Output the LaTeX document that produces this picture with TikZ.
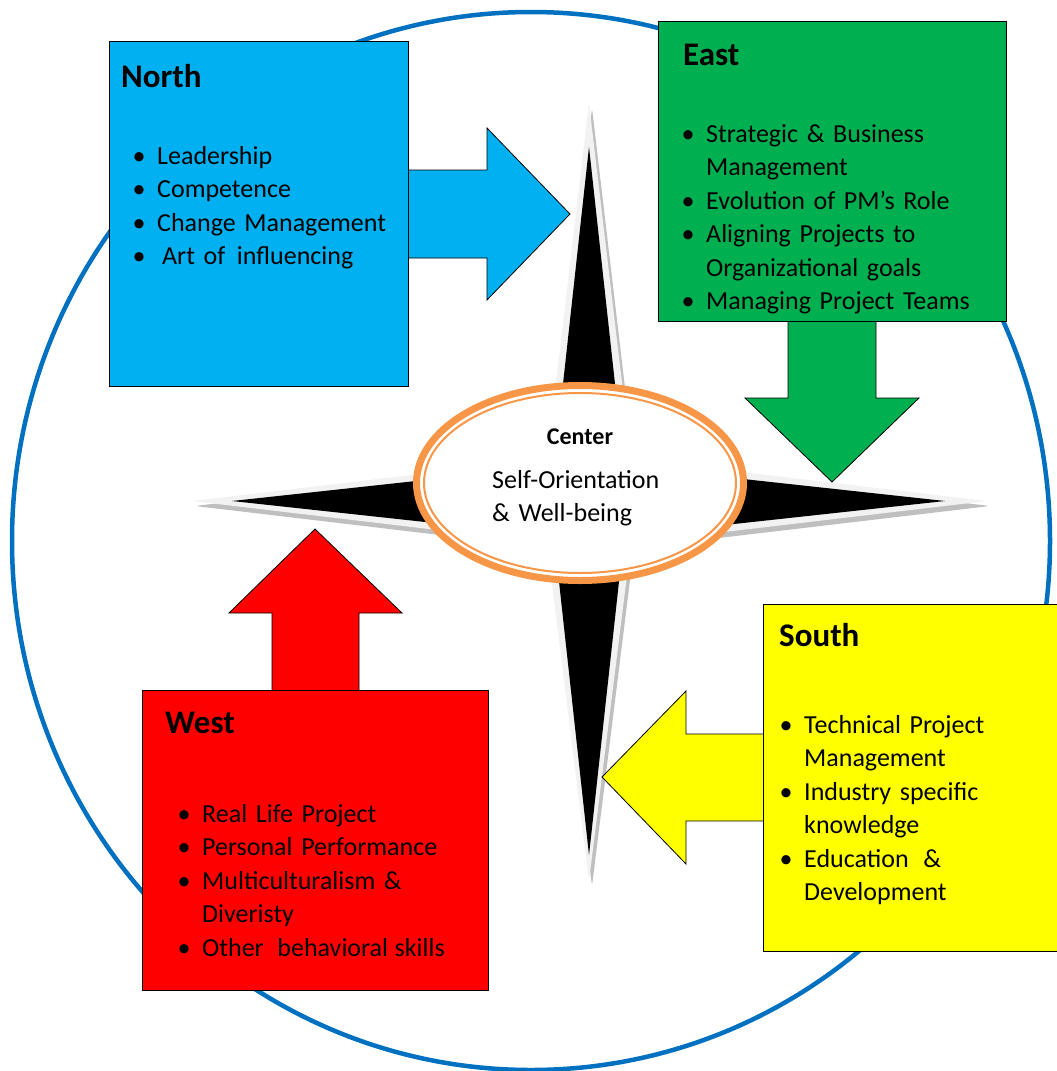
\documentclass[tikz,border=0pt]{standalone}
\usepackage{fontspec}
\setmainfont{Carlito}
\usetikzlibrary{shapes.geometric}

\definecolor{ringblue}{HTML}{0070C0}
\definecolor{northblue}{HTML}{00B0F0}
\definecolor{eastgreen}{HTML}{00B050}
\definecolor{southyellow}{HTML}{FFFF00}
\definecolor{westred}{HTML}{FF0000}
\definecolor{centreorange}{HTML}{F79646}
\definecolor{starlight}{HTML}{F2F2F2}
\definecolor{starshadow}{HTML}{BFBFBF}

\newcommand{\itm}[1]{\makebox[27pt][l]{\makebox[18pt]{\textbullet}}#1}
\newcommand{\cnt}[1]{\hspace*{27pt}#1}

\begin{document}
\begin{tikzpicture}[x=1pt, y=-1pt,
box/.style={draw=black, line width=0.8pt, inner sep=0pt, anchor=north west},
blockarrow/.style={draw=black, line width=0.8pt, line join=miter},
heading/.style={anchor=base west, inner sep=0pt, font=\fontsize{33}{40}\selectfont\bfseries},
items/.style={anchor=base west, inner sep=0pt, text width=330pt, align=left, font=\fontsize{26}{33.5}\selectfont} ]

\useasboundingbox (0,0) rectangle (1057,1071);

% outer ring
\draw[ringblue, line width=4.5pt] (531,541) ellipse [x radius=519pt, y radius=529pt];

% compass star
\begin{scope}[shift={(592,506)}]
\fill[starshadow, rounded corners=4pt] (398,0) -- (42,42) -- (0,380) -- (-42,42) -- (-397,0) -- (-42,-42) -- (0,-398) -- (42,-42) -- cycle;
\end{scope}
\begin{scope}[shift={(589,501)}]
\fill[starlight, rounded corners=4pt] (398,0) -- (42,42) -- (0,380) -- (-42,42) -- (-397,0) -- (-42,-42) -- (0,-398) -- (42,-42) -- cycle;
\fill[black] (356,0) -- (35,35) -- (0,354) -- (-35,35) -- (-357,0) -- (-35,-35) -- (0,-354) -- (35,-35) -- cycle;
\end{scope}

% arrows (drawn first, the boxes cover their roots)
\filldraw[blockarrow, fill=northblue] (380,170) -- (487,170) -- (487,128) -- (570,214) -- (487,300) -- (487,258) -- (380,258);
\filldraw[blockarrow, fill=eastgreen] (788,300) -- (788,398) -- (745,398) -- (832,482) -- (919,398) -- (876,398) -- (876,300);
\filldraw[blockarrow, fill=southyellow] (790,734) -- (686,734) -- (686,691) -- (602,777) -- (686,864) -- (686,821) -- (790,821);
\filldraw[blockarrow, fill=westred] (272,720) -- (272,613) -- (229,613) -- (315,529) -- (402,613) -- (359,613) -- (359,720);

% boxes
\node[box, fill=northblue, minimum width=299pt, minimum height=345pt] (north) at (109,41) {};
\node[box, fill=eastgreen, minimum width=348pt, minimum height=300pt] (east) at (658,21) {};
\node[box, fill=southyellow, minimum width=300pt, minimum height=347pt] (south) at (763,604) {};
\node[box, fill=westred, minimum width=346pt, minimum height=300pt] (west) at (142,690) {};

% centre
\node[ellipse, draw=centreorange, line width=7pt, fill=white, inner sep=0pt, minimum width=327pt, minimum height=195pt] (centre) at (580,483) {};
\draw[centreorange, line width=2pt] (centre.center) ellipse [x radius=156pt, y radius=90pt];

% texts
\node[heading] (northtitle) at (121,87) {North};
\node[items] (northlist) at (130,164) {\itm{Leadership}\\ \itm{Competence}\\ \itm{Change Management}\\ \itm{\hspace{5pt}Art of\hspace{3pt} influencing}};

\node[heading] (easttitle) at (683,65) {East};
\node[items] (eastlist) at (679,142) {\itm{Strategic \& Business}\\ \cnt{Management}\\ \itm{Evolution of PM’s Role}\\ \itm{Aligning Projects to}\\ \cnt{Organizational goals}\\ \itm{Managing Project Teams}};

\node[heading] (southtitle) at (779,646) {South};
\node[items] (southlist) at (777,733) {\itm{Technical Project}\\ \cnt{Management}\\ \itm{Industry specific}\\ \cnt{knowledge}\\ \itm{Education\hspace{6pt} \&}\\ \cnt{Development}};

\node[heading] (westtitle) at (165,733) {West};
\node[items] (westlist) at (175,822) {\itm{Real Life Project}\\ \itm{Personal Performance}\\ \itm{Multiculturalism \&}\\ \cnt{Diveristy}\\ \itm{Other\hspace{5pt} behavioral\hspace{-2pt} skills}};

\node[anchor=base, inner sep=0pt, font=\fontsize{24}{30}\selectfont\bfseries] (centretitle) at (580,444) {Center};
\node[items] (centretext) at (492,488) {Self-Orientation\\ \& Well-being};

\end{tikzpicture}
\end{document}
